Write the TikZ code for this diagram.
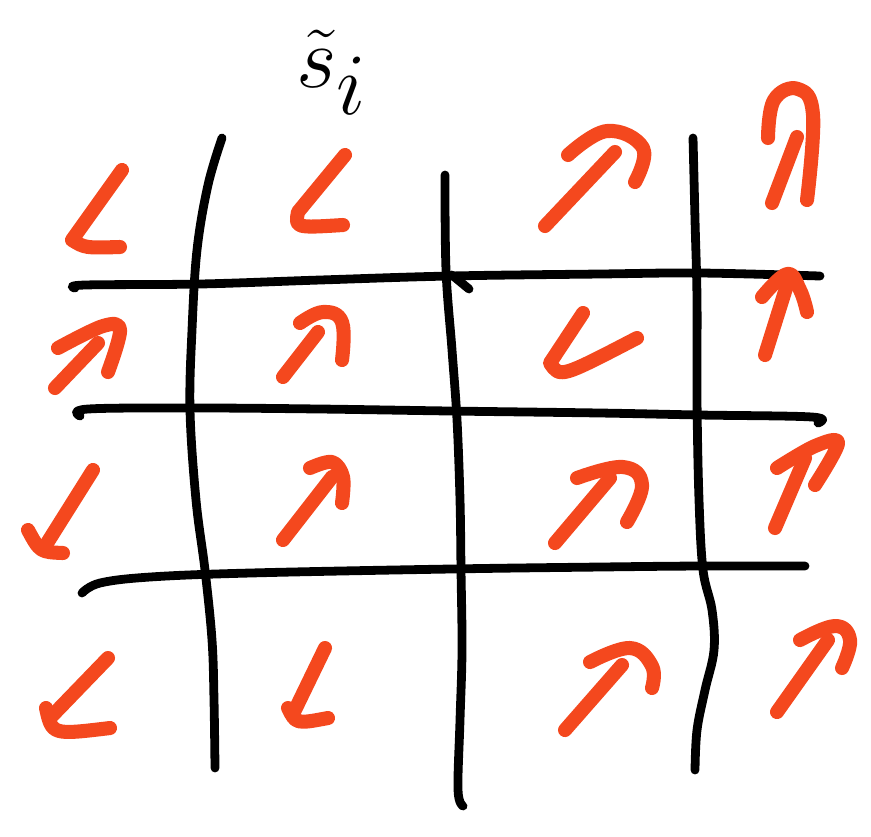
\documentclass[tikz,border=0pt]{standalone}
\usepackage{amsmath}
\definecolor{pen}{RGB}{244,72,30}
\tikzset{
  gridline/.style={line width=2.5pt, black, line cap=round, line join=round},
  arr/.style={line width=4pt, pen, line cap=round, line join=round},
}
\begin{document}
\begin{tikzpicture}[x=0.01cm,y=-0.01cm]
\useasboundingbox (0,0) rectangle (871,836);
% grid lines
\draw[gridline] plot[smooth, tension=0.6] coordinates {(222,138) (208,185) (197,250) (192,330) (190,410) (196,500) (205,570) (212,640) (214,700) (215,768)};
\draw[gridline] plot[smooth, tension=0.6] coordinates {(445,175) (446,270) (452,350) (457,420) (460,500) (461,570) (462,650) (460,720) (458,790) (463,806)};
\draw[gridline] plot[smooth, tension=0.6] coordinates {(693,138) (695,220) (697,300) (697,400) (699,500) (703,570) (712,610) (714,650) (705,690) (697,730) (695,770)};
\draw[gridline] plot[smooth, tension=0.6] coordinates {(75,288) (85,285) (200,284) (320,280) (450,276) (600,274) (700,273) (820,276)};
\draw[gridline] (452,275) -- (469,289);
\draw[gridline] plot[smooth, tension=0.6] coordinates {(80,416) (88,409) (200,408) (320,409) (450,411) (600,413) (700,415) (812,417) (818,423)};
\draw[gridline] plot[smooth, tension=0.6] coordinates {(82,593) (100,583) (150,577) (250,573) (450,569) (600,567) (700,566) (805,566)};
% label
\node[font=\fontsize{46}{50}\selectfont] (lbl) at (332,72) {$\tilde{s}_{i}$};
% row 1
\draw[arr] (122,170) -- (72,240) .. controls (85,248) .. (120,247);
\draw[arr] (345,155) -- (298,212) .. controls (295,228) .. (343,225);
\draw[arr] (545,226) -- (615,152);
\draw[arr] plot[smooth, tension=0.7] coordinates {(568,155) (607,131) (643,148) (635,182)};
\draw[arr] (772,203) -- (797,137);
\draw[arr] plot[smooth, tension=0.7] coordinates {(768,138) (774,100) (798,89) (813,115) (807,200)};
% row 2
\draw[arr] (55,388) -- (98,343);
\draw[arr] plot[smooth, tension=0.6] coordinates {(58,348) (103,326) (120,330) (108,372)};
\draw[arr] (283,377) -- (318,332);
\draw[arr] plot[smooth, tension=0.7] coordinates {(300,323) (323,312) (342,322) (342,360)};
\draw[arr] (583,313) -- (550,363) .. controls (560,378) .. (637,338);
\draw[arr] (765,355) -- (787,285);
\draw[arr] plot[smooth, tension=0.7] coordinates {(762,297) (787,274) (800,290) (807,312)};
% row 3
\draw[arr] (93,470) -- (44,548);
\draw[arr] (28,530) .. controls (40,552) .. (63,553);
\draw[arr] (283,540) -- (332,477);
\draw[arr] plot[smooth, tension=0.6] coordinates {(310,468) (332,462) (343,477) (342,503)};
\draw[arr] (555,543) -- (610,478);
\draw[arr] plot[smooth, tension=0.7] coordinates {(577,478) (623,467) (642,485) (627,522)};
\draw[arr] (775,528) -- (805,458);
\draw[arr] plot[smooth, tension=0.6] coordinates {(777,468) (815,446) (838,443) (815,485)};
% row 4
\draw[arr] (108,658) -- (50,718);
\draw[arr] (46,708) .. controls (52,735) .. (110,728);
\draw[arr] (325,648) -- (294,712);
\draw[arr] (288,708) .. controls (296,724) .. (328,718);
\draw[arr] (565,730) -- (622,665);
\draw[arr] plot[smooth, tension=0.7] coordinates {(590,662) (630,648) (652,666) (652,688)};
\draw[arr] (777,712) -- (828,640);
\draw[arr] plot[smooth, tension=0.7] coordinates {(800,640) (835,626) (850,640) (842,668)};
\end{tikzpicture}
\end{document}
